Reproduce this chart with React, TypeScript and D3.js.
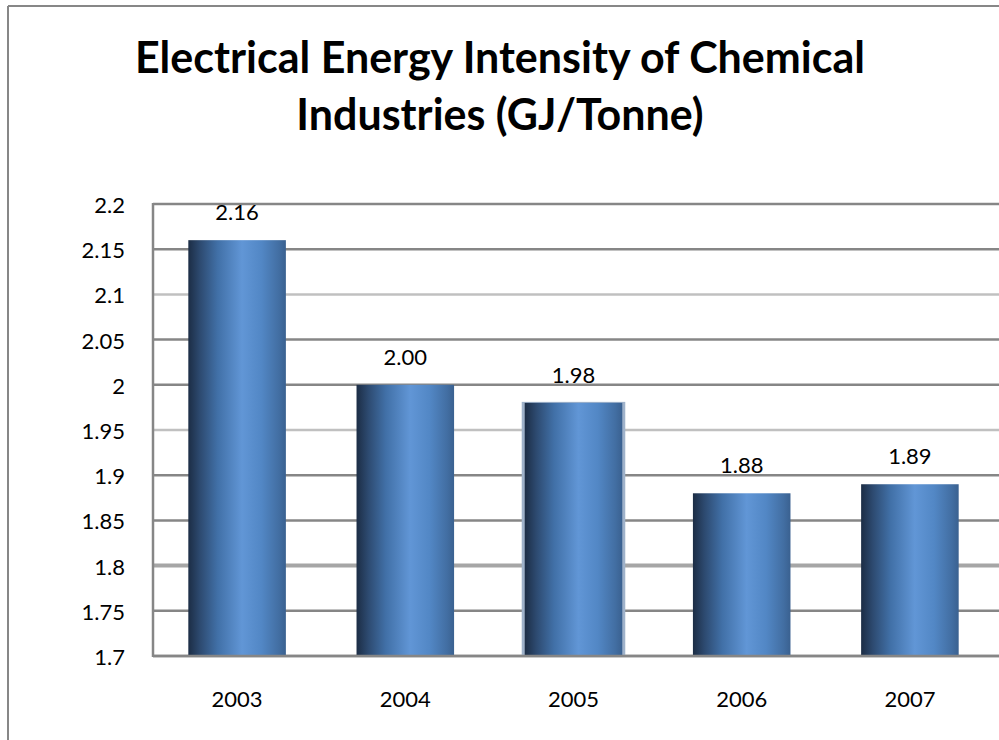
import React from "react";
import * as d3 from "d3";

const categories: string[] = ["2003", "2004", "2005", "2006", "2007"];
const values: number[] = [2.16, 2.0, 1.98, 1.88, 1.89];
const valueLabels: string[] = ["2.16", "2.00", "1.98", "1.88", "1.89"];
const yTicks: number[] = [1.7, 1.75, 1.8, 1.85, 1.9, 1.95, 2.0, 2.05, 2.1, 2.15, 2.2];
const yTickLabels: string[] = ["1.7", "1.75", "1.8", "1.85", "1.9", "1.95", "2", "2.05", "2.1", "2.15", "2.2"];
const titleLines: string[] = ["Electrical Energy Intensity of Chemical", "Industries (GJ/Tonne)"];

const W = 999;
const H = 740;
const plotLeft = 153;
const plotTop = 204;
const plotBottom = 656;
const plotRight = 994;

const FONT = "Lato, 'Open Sans', sans-serif";

export default function App() {
  const x = d3.scaleBand<string>().domain(categories).range([plotLeft, plotRight]).paddingInner(0.42).paddingOuter(0.21);
  const y = d3.scaleLinear().domain([1.7, 2.2]).range([plotBottom, plotTop]);

  const gridStyle = (v: number) => {
    const r = Math.round(v * 100);
    if (r === 210 || r === 195) return { stroke: "#c0c0c0", w: 2.5 };
    if (r === 180) return { stroke: "#a6a6a6", w: 4 };
    return { stroke: "#868686", w: 2.5 };
  };

  return (
    <svg width={W} height={H} style={{ position: "absolute", left: 0, top: 0, background: "#fff" }}>
      <defs>
        <linearGradient id="barGrad" x1="0" x2="1" y1="0" y2="0">
          <stop offset="0" stopColor="#1c2d45" />
          <stop offset="0.12" stopColor="#2d4a70" />
          <stop offset="0.3" stopColor="#4170a7" />
          <stop offset="0.55" stopColor="#6196d6" />
          <stop offset="0.75" stopColor="#5287c5" />
          <stop offset="0.93" stopColor="#426ea2" />
          <stop offset="1" stopColor="#3a6190" />
        </linearGradient>
      </defs>
      <rect x={0} y={0} width={W} height={H} fill="#fff" />
      {/* outer border */}
      <line x1={8} y1={6} x2={W} y2={6} stroke="#878787" strokeWidth={2} />
      <line x1={8} y1={6} x2={8} y2={H} stroke="#878787" strokeWidth={2} />

      {/* title */}
      {titleLines.map((t, i) => (
        <text
          key={t}
          x={500}
          y={73 + i * 57}
          textAnchor="middle"
          fontFamily={FONT}
          fontWeight={700}
          fontSize={43}
          fill="#000"
        >
          {t}
        </text>
      ))}

      {/* gridlines */}
      {yTicks.map((v) => {
        const s = gridStyle(v);
        return (
          <line key={v} x1={plotLeft} x2={W} y1={y(v)} y2={y(v)} stroke={s.stroke} strokeWidth={s.w} />
        );
      })}
      {/* left axis */}
      <line x1={plotLeft} x2={plotLeft} y1={plotTop - 1} y2={plotBottom + 1} stroke="#868686" strokeWidth={2.5} />

      {/* y tick labels */}
      {yTicks.map((v, i) => (
        <text key={"yl" + v} x={125} y={y(v) + 9} textAnchor="end" fontFamily={FONT} fontSize={22} fill="#000">
          {yTickLabels[i]}
        </text>
      ))}

      {/* bars */}
      {categories.map((c, i) => {
        const bx = x(c)!;
        const by = y(values[i]);
        return (
          <g key={c}>
            {i === 2 && (
              <rect x={bx - 3} y={by - 1} width={x.bandwidth() + 6} height={plotBottom - by + 1} fill="#9fb2ca" />
            )}
            <rect x={bx} y={by} width={x.bandwidth()} height={plotBottom - by} fill="url(#barGrad)" />
          </g>
        );
      })}
      {/* axis line over bar bottoms */}
      <line x1={plotLeft} x2={W} y1={plotBottom} y2={plotBottom} stroke="#868686" strokeWidth={2.5} />

      {/* value labels */}
      {categories.map((c, i) => (
        <text
          key={"vl" + c}
          x={x(c)! + x.bandwidth() / 2}
          y={y(values[i]) - 20}
          textAnchor="middle"
          fontFamily={FONT}
          fontSize={22}
          fill="#000"
        >
          {valueLabels[i]}
        </text>
      ))}

      {/* x labels */}
      {categories.map((c) => (
        <text
          key={"xl" + c}
          x={x(c)! + x.bandwidth() / 2}
          y={707}
          textAnchor="middle"
          fontFamily={FONT}
          fontSize={22}
          fill="#000"
        >
          {c}
        </text>
      ))}
    </svg>
  );
}
